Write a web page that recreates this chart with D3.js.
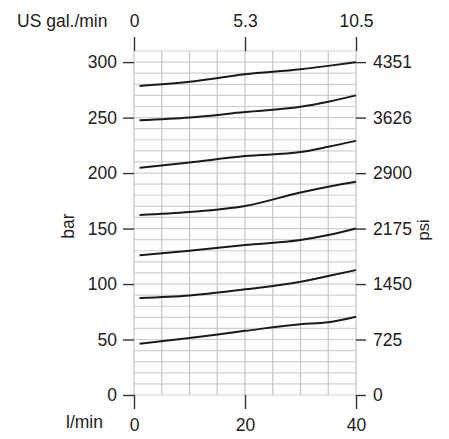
<!DOCTYPE html>
<html><head><meta charset="utf-8">
<script src="https://cdn.jsdelivr.net/npm/d3@7"></script>
<style>body{margin:0;background:#fff}svg{display:block}text{font-family:"Liberation Sans",Arial,sans-serif;fill:#222}</style>
</head><body><svg id="c" width="449" height="439"></svg>
<script>
const flows = [1, 10, 20, 30, 35, 40];
const curve1 = [278.5, 282.3, 289.0, 293.5, 296.6, 300.0];
const curve2 = [247.5, 250.0, 255.0, 259.7, 264.3, 270.0];
const curve3 = [204.8, 209.6, 215.3, 218.9, 223.7, 229.0];
const curve4 = [162.3, 164.9, 170.3, 182.5, 187.7, 192.2];
const curve5 = [125.8, 130.0, 135.1, 139.6, 144.1, 150.0];
const curve6 = [87.4, 89.7, 95.2, 102.1, 107.2, 112.6];
const curve7 = [46.2, 51.3, 57.8, 63.8, 65.5, 70.6];
const barTicks = [0, 50, 100, 150, 200, 250, 300];
const psiTicks = [0, 725, 1450, 2175, 2900, 3626, 4351];
const flowTicks = [0, 20, 40];
const galLabels = ["0", "5.3", "10.5"];

const svg = d3.select("#c");
const x = d3.scaleLinear().domain([0, 40]).range([134, 356]);
const y = d3.scaleLinear().domain([0, 310]).range([395, 51]);
const yPsi = d3.scaleLinear().domain([0, 310 * 14.5038]).range([395, 51]);

// grid
const g = svg.append("g");
g.selectAll("line.h").data(d3.range(0, 311, 10)).enter().append("line")
  .attr("x1", x(0)).attr("x2", x(40)).attr("y1", d => y(d)).attr("y2", d => y(d))
  .attr("stroke", "#d0d0d0").attr("stroke-width", 1.2);
g.selectAll("line.v").data(d3.range(0, 41, 5)).enter().append("line")
  .attr("x1", d => x(d)).attr("x2", d => x(d)).attr("y1", y(0)).attr("y2", y(310))
  .attr("stroke", "#c4c4c4").attr("stroke-width", 1.2);

function styleAxis(sel) {
  sel.select(".domain").remove();
  sel.selectAll(".tick line").attr("stroke", "#333").attr("stroke-width", 1.4);
  sel.selectAll(".tick text").style("font-size", "17.5px").attr("fill", "#222");
}
svg.append("g").attr("transform", `translate(${x(0)},0)`)
  .call(d3.axisLeft(y).tickValues(barTicks).tickSize(11).tickPadding(6))
  .call(styleAxis);
svg.append("g").attr("transform", `translate(${x(40)},0)`)
  .call(d3.axisRight(yPsi).tickValues(psiTicks).tickSize(10).tickPadding(7).tickFormat(d3.format("d")))
  .call(styleAxis);
svg.append("g").attr("transform", `translate(0,${y(0)})`)
  .call(d3.axisBottom(x).tickValues(flowTicks).tickSize(14).tickPadding(10))
  .call(styleAxis);
svg.append("g").attr("transform", `translate(0,${y(310)})`)
  .call(d3.axisTop(x).tickValues(flowTicks).tickSize(14).tickPadding(10)
    .tickFormat((d, i) => galLabels[i]))
  .call(styleAxis);

// curves
const line = d3.line().x((d, i) => x(flows[i])).y(d => y(d)).curve(d3.curveMonotoneX);
[curve1, curve2, curve3, curve4, curve5, curve6, curve7].forEach(c => {
  svg.append("path").attr("d", line(c)).attr("fill", "none")
    .attr("stroke", "#1a1a1a").attr("stroke-width", 2);
});

// labels
svg.append("text").attr("x", 17).attr("y", 27).style("font-size", "17.5px").text("US gal./min");
svg.append("text").attr("x", 66).attr("y", 428).style("font-size", "17.5px").text("l/min");
svg.append("text").attr("transform", "translate(74,226) rotate(-90)").attr("text-anchor", "middle")
  .style("font-size", "17.5px").text("bar");
svg.append("text").attr("transform", "translate(429,230) rotate(-90)").attr("text-anchor", "middle")
  .style("font-size", "16.5px").text("psi");
</script></body></html>
